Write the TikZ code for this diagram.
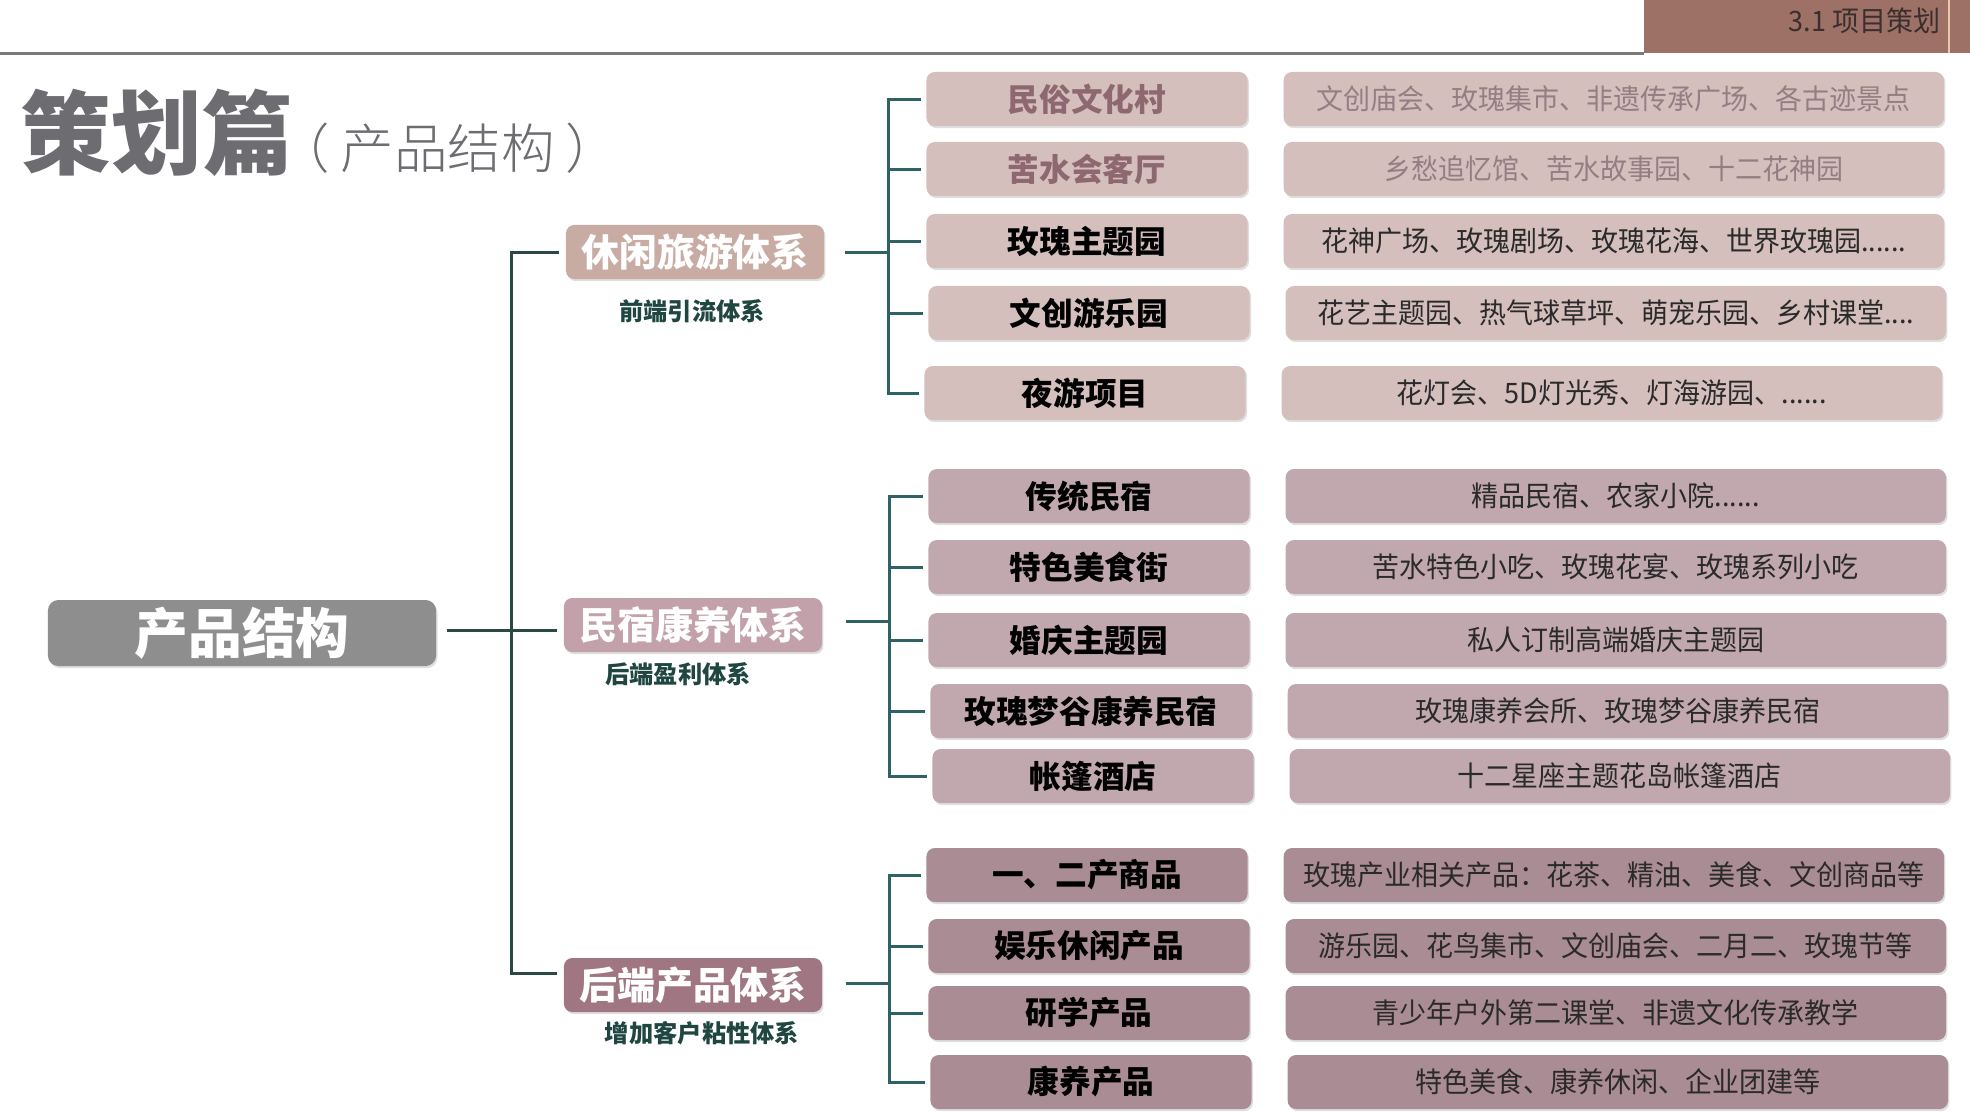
\documentclass[tikz,border=0pt]{standalone}
\usepackage{fontspec}
\setmainfont{Noto Sans CJK SC}
\newfontfamily\heavyfont{Noto Sans CJK SC Black}
\newfontfamily\lightfont{Noto Sans CJK SC Light}
\newfontfamily\narrowfont{Noto Sans CJK SC}[FakeStretch=0.96]
\usetikzlibrary{positioning,shadows}

\definecolor{tabbrown}{HTML}{9E7166}
\definecolor{tabline}{HTML}{E8C9A8}
\definecolor{tabtext}{HTML}{3A2E2E}
\definecolor{topgray}{HTML}{7A7A7A}
\definecolor{titlegray}{HTML}{6D6C71}
\definecolor{rootgray}{HTML}{8E8E8E}
\definecolor{sysa}{HTML}{C8ABA3}
\definecolor{sysb}{HTML}{C3A1AA}
\definecolor{sysc}{HTML}{9F7681}
\definecolor{notegreen}{HTML}{1F4641}
\definecolor{linkdark}{HTML}{2A4844}
\definecolor{linkteal}{HTML}{2F6264}
\definecolor{rowa}{HTML}{D5BFBD}
\definecolor{rowb}{HTML}{C1A8AF}
\definecolor{rowc}{HTML}{AA8C94}
\definecolor{mauvetext}{HTML}{8E6871}
\definecolor{mauvelight}{HTML}{967D83}
\definecolor{darktext}{HTML}{2A2A2A}

\begin{document}
\begin{tikzpicture}[x=0.01cm,y=-0.01cm,node distance=5.265cm,on grid]
 \tikzstyle{box}=[rectangle,rounded corners=2.4pt,inner sep=0pt,minimum height=0.54cm,
   drop shadow={shadow xshift=0.4pt,shadow yshift=-0.6pt,opacity=0.25}]
 \tikzstyle{lvone}=[box,minimum width=2.58cm,text=white,font=\fontsize{10.8}{12}\selectfont\bfseries]
 \tikzstyle{item}=[box,minimum width=3.21cm,text=black,font=\fontsize{9}{10}\selectfont\bfseries]
 \tikzstyle{detail}=[box,minimum width=6.6cm,text=darktext,font=\narrowfont\fontsize{8}{9}\selectfont]
 \tikzstyle{note}=[text=notegreen,font=\fontsize{6.9}{8}\selectfont\bfseries]
 \tikzstyle{link}=[line width=0.85pt,draw=linkdark]
 \tikzstyle{sublink}=[line width=0.85pt,draw=linkteal]

\useasboundingbox (0,0) rectangle (1970,1111);

% header
\fill[tabbrown] (1644,0) rectangle (1970,53);
\draw[tabline,line width=0.6pt] (1949,0) -- (1949,53);
\draw[topgray,line width=0.85pt] (0,53) -- (1644,53);
\node[anchor=east,inner sep=0pt,text=tabtext,font=\narrowfont\fontsize{8}{9}\selectfont] (tab) at (1941,21) {3.1 项目策划};
\node[anchor=west,inner sep=0pt,text=titlegray,font=\heavyfont\fontsize{25.8}{30}\selectfont] (title) at (20,133) {策划篇};
\node[anchor=west,inner sep=0pt,text=titlegray,font=\lightfont\fontsize{15.2}{18}\selectfont] (subtitle) at (276,148) {（\hspace{0.2em}产品结构\hspace{0.2em}）};

% root and systems
\node[box,fill=rootgray,text=white,minimum width=3.88cm,minimum height=0.66cm,rounded corners=3pt,
  font=\fontsize{15.3}{17}\selectfont\bfseries] (r) at (242,633) {产品结构};

\node[lvone,fill=sysa] (s1) at (695,252) {休闲旅游体系};
\node[lvone,fill=sysb] (s2) at (693,625) {民宿康养体系};
\node[lvone,fill=sysc] (s3) at (693,985) {后端产品体系};

\node[note] (n1) at (692,311) {前端引流体系};
\node[note] (n2) at (678,674) {后端盈利体系};
\node[note] (n3) at (702,1033) {增加客户粘性体系};

% items
\node[item,fill=rowa,text=mauvetext] (p1) at (1087,99) {民俗文化村};
\node[item,fill=rowa,text=mauvetext] (p2) at (1087,169) {苦水会客厅};
\node[item,fill=rowa] (p3) at (1087,241) {玫瑰主题园};
\node[item,fill=rowa] (p4) at (1089,313) {文创游乐园};
\node[item,fill=rowa] (p5) at (1085,393) {夜游项目};

\node[item,fill=rowb] (p6) at (1089,496) {传统民宿};
\node[item,fill=rowb] (p7) at (1089,567) {特色美食街};
\node[item,fill=rowb] (p8) at (1089,640) {婚庆主题园};
\node[item,fill=rowb] (p9) at (1091,711) {玫瑰梦谷康养民宿};
\node[item,fill=rowb] (p10) at (1093,776) {帐篷酒店};

\node[item,fill=rowc] (p11) at (1087,875) {一、二产商品};
\node[item,fill=rowc] (p12) at (1089,946) {娱乐休闲产品};
\node[item,fill=rowc] (p13) at (1089,1013) {研学产品};
\node[item,fill=rowc] (p14) at (1091,1082) {康养产品};

% details
\node[detail,fill=rowa,text=mauvelight] (d1) [right=of p1] {文创庙会、玫瑰集市、非遗传承广场、各古迹景点};
\node[detail,fill=rowa,text=mauvelight] (d2) [right=of p2] {乡愁追忆馆、苦水故事园、十二花神园};
\node[detail,fill=rowa] (d3) [right=of p3] {花神广场、玫瑰剧场、玫瑰花海、世界玫瑰园......};
\node[detail,fill=rowa] (d4) [right=of p4] {花艺主题园、热气球草坪、萌宠乐园、乡村课堂....};
\node[detail,fill=rowa] (d5) [right=of p5] {花灯会、5D灯光秀、灯海游园、......};

\node[detail,fill=rowb] (d6) [right=of p6] {精品民宿、农家小院......};
\node[detail,fill=rowb] (d7) [right=of p7] {苦水特色小吃、玫瑰花宴、玫瑰系列小吃};
\node[detail,fill=rowb] (d8) [right=of p8] {私人订制高端婚庆主题园};
\node[detail,fill=rowb] (d9) [right=of p9] {玫瑰康养会所、玫瑰梦谷康养民宿};
\node[detail,fill=rowb] (d10) [right=of p10] {十二星座主题花岛帐篷酒店};

\node[detail,fill=rowc] (d11) [right=of p11] {玫瑰产业相关产品：花茶、精油、美食、文创商品等};
\node[detail,fill=rowc] (d12) [right=of p12] {游乐园、花鸟集市、文创庙会、二月二、玫瑰节等};
\node[detail,fill=rowc] (d13) [right=of p13] {青少年户外第二课堂、非遗文化传承教学};
\node[detail,fill=rowc] (d14) [right=of p14] {特色美食、康养休闲、企业团建等};

% main tree
\coordinate (k1) at (511,252);
\coordinate (k2) at (511,630);
\coordinate (k3) at (511,973);
\draw[link,shorten <=2.8pt,shorten >=1.7pt] (r.east |- k2) -- (s2.west |- k2);
\draw[link,shorten <=1.7pt,shorten >=1.7pt] (s1.west |- k1) -- (k1) -- (k3) -- (s3.west |- k3);

% branches
\coordinate (g1) at (888,252);
\coordinate (g2) at (889,621);
\coordinate (g3) at (889,983);
\draw[sublink,shorten <=5.7pt] (s1.east |- g1) -- (g1);
\draw[sublink,shorten <=6.5pt] (s2.east |- g2) -- (g2);
\draw[sublink,shorten <=6.5pt] (s3.east |- g3) -- (g3);

\draw[sublink,shorten <=1.4pt,shorten >=1.4pt] (p1.west) -| (g1 |- p5) -- (p5.west);
\draw[sublink,shorten <=1.4pt,shorten >=1.4pt] (p6.west) -| (g2 |- p10) -- (p10.west);
\draw[sublink,shorten <=1.4pt,shorten >=1.4pt] (p11.west) -| (g3 |- p14) -- (p14.west);
\foreach \b in {p2,p3,p4}
  \draw[sublink,shorten >=1.4pt] (g1 |- \b.west) -- (\b.west);
\foreach \b in {p7,p8,p9}
  \draw[sublink,shorten >=1.4pt] (g2 |- \b.west) -- (\b.west);
\foreach \b in {p12,p13}
  \draw[sublink,shorten >=1.4pt] (g3 |- \b.west) -- (\b.west);

\end{tikzpicture}
\end{document}
